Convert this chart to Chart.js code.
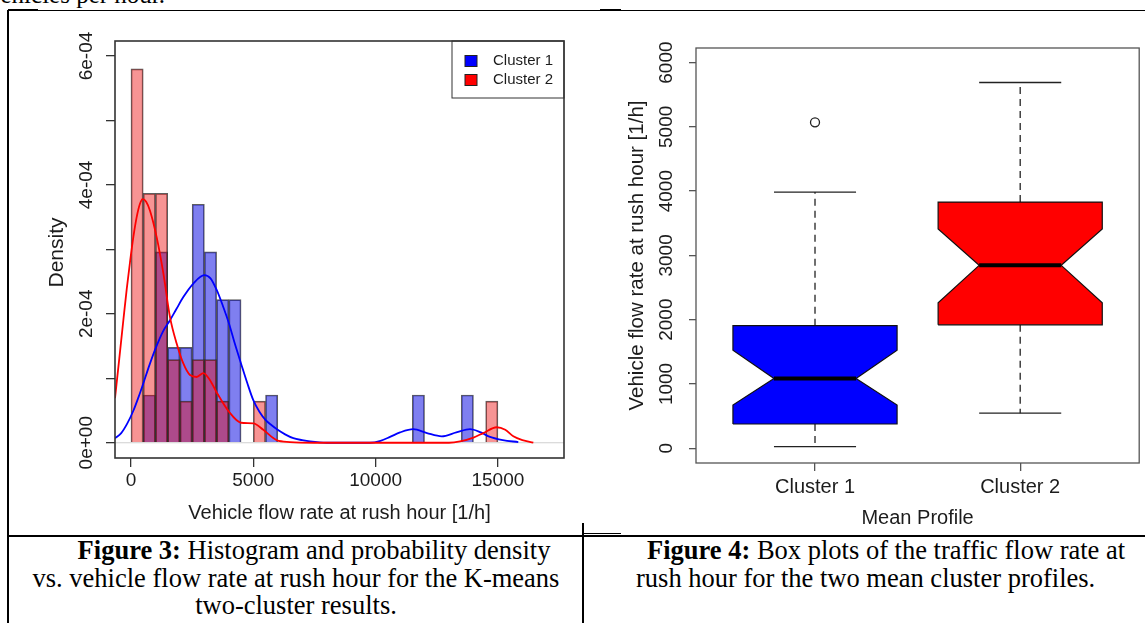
<!DOCTYPE html>
<html>
<head>
<meta charset="utf-8">
<script src="https://cdn.jsdelivr.net/npm/chart.js@4.4.1/dist/chart.umd.min.js"></script>
<style>
    html, body { margin: 0; padding: 0; background: #fff; }
    body {
        width: 1145px; height: 623px; position: relative; overflow: hidden;
        font-family: "Liberation Serif", "Times New Roman", serif; color: #000;
    }
    canvas { position: absolute; }
    .rule { position: absolute; background: #000; }
    .cap { position: absolute; font-size: 26.5px; line-height: 27.5px; white-space: nowrap; }
</style>
</head>
<body>

<div class="cap" style="left:-12px; top:-18px; font-size:25px; line-height:25px;">vehicles per hour.</div>

<div class="rule" style="left:8px; top:10px; width:1137px; height:1px;"></div>
<div class="rule" style="left:8px; top:9px; width:30px; height:2px;"></div>
<div class="rule" style="left:600px; top:9px; width:21px; height:2px;"></div>
<div class="rule" style="left:7px; top:10px; width:2px; height:613px;"></div>
<div class="rule" style="left:8px; top:535px; width:1137px; height:2px;"></div>
<div class="rule" style="left:583px; top:533px; width:38px; height:1px;"></div>
<div class="rule" style="left:582px; top:523px; width:2px; height:100px;"></div>

<canvas id="graficoHist" width="573" height="522" style="left:10px; top:12px;"></canvas>
<canvas id="graficoBox" width="545" height="522" style="left:600px; top:12px;"></canvas>

<div class="cap" style="left:9px; width:574px; top:537px; text-align:center;">
    <div style="padding-left:36px;"><b>Figure 3:</b> Histogram and probability density</div>
    <div>vs. vehicle flow rate at rush hour for the K-means</div>
    <div>two-cluster results.</div>
</div>

<div class="cap" style="left:636px; top:537px;">
    <div style="padding-left:11px;"><b>Figure 4:</b> Box plots of the traffic flow rate at</div>
    <div>rush hour for the two mean cluster profiles.</div>
</div>

<script>
// histogram (Figure 3)

const binStarts = [
    0, 500, 1000, 1500, 2000, 2500, 3000, 3500, 4000, 4500,
    5000, 5500, 6000, 6500, 7000, 7500, 8000, 8500, 9000, 9500,
    10000, 10500, 11000, 11500, 12000, 12500, 13000, 13500, 14000, 14500
];

const cluster1Density = [
    0, 0.74e-4, 2.96e-4, 1.48e-4, 1.48e-4, 3.70e-4, 2.96e-4, 2.22e-4, 2.22e-4, 0,
    0, 0.74e-4, 0, 0, 0, 0, 0, 0, 0, 0,
    0, 0, 0, 0.74e-4, 0, 0, 0, 0.74e-4, 0, 0
];

const cluster2Density = [
    5.80e-4, 3.87e-4, 3.87e-4, 1.29e-4, 0.645e-4, 1.29e-4, 1.29e-4, 0.645e-4, 0, 0,
    0.645e-4, 0, 0, 0, 0, 0, 0, 0, 0, 0,
    0, 0, 0, 0, 0, 0, 0, 0, 0, 0.645e-4
];

const cluster1CurveX = [
    -654, -400, -150, 100, 300, 503, 750, 981, 1300, 1594,
    1850, 2139, 2548, 2998, 3250, 3503, 3750, 4006, 4250, 4497,
    4750, 5000, 5250, 5507, 5750, 5997, 6300, 6636, 7000, 7318,
    8000, 9770, 10200, 10589, 11000, 11542, 12100, 12703, 13300, 13860,
    14300, 14677, 15200, 15834
];

const cluster1CurveY = [
    0.07e-4, 0.15e-4, 0.30e-4, 0.50e-4, 0.70e-4, 0.92e-4, 1.20e-4, 1.44e-4, 1.72e-4, 1.90e-4,
    2.07e-4, 2.26e-4, 2.47e-4, 2.60e-4, 2.55e-4, 2.37e-4, 2.13e-4, 1.85e-4, 1.53e-4, 1.23e-4,
    0.93e-4, 0.66e-4, 0.48e-4, 0.35e-4, 0.27e-4, 0.20e-4, 0.13e-4, 0.07e-4, 0.04e-4, 0.02e-4,
    0, 0, 0.03e-4, 0.09e-4, 0.16e-4, 0.21e-4, 0.15e-4, 0.10e-4, 0.16e-4, 0.21e-4,
    0.16e-4, 0.09e-4, 0.04e-4, 0.01e-4
];

const cluster2CurveX = [
    -654, -480, -313, -170, -41, 100, 232, 360, 477, 620,
    777, 1049, 1322, 1594, 1867, 2139, 2412, 2685, 2957, 3230,
    3503, 4006, 4497, 5000, 5409, 5955, 6500, 7500, 10000, 13000,
    13450, 14000, 14403, 14951, 15300, 15630, 16000, 16448
];

const cluster2CurveY = [
    0.69e-4, 1.30e-4, 1.90e-4, 2.40e-4, 2.80e-4, 3.20e-4, 3.50e-4, 3.70e-4, 3.78e-4, 3.74e-4,
    3.60e-4, 3.19e-4, 2.63e-4, 1.95e-4, 1.54e-4, 1.23e-4, 1.05e-4, 1.02e-4, 1.08e-4, 0.97e-4,
    0.78e-4, 0.48e-4, 0.31e-4, 0.30e-4, 0.20e-4, 0.04e-4, 0.01e-4, 0, 0, 0,
    0.02e-4, 0.08e-4, 0.15e-4, 0.24e-4, 0.20e-4, 0.10e-4, 0.04e-4, 0
];

const histXTickValues = [0, 5000, 10000, 15000];
const histXTicks = ["0", "5000", "10000", "15000"];
const histYTickValues = [0, 1e-4, 2e-4, 3e-4, 4e-4, 5e-4, 6e-4];
const histYTicks = ["0e+00", "", "2e-04", "", "4e-04", "", "6e-04"];
const legendLabels = ["Cluster 1", "Cluster 2"];

// box plots (Figure 4)

const groups = ["Cluster 1", "Cluster 2"];
const whiskerLow = [25, 545];
const quartil1 = [377, 1920];
const notchLow = [672, 2263];
const mediana = [1085, 2845];
const notchHigh = [1524, 3410];
const quartil3 = [1907, 3830];
const whiskerHigh = [3985, 5690];
const outliers = [[5070], []];
const boxXTickValues = [1, 2];
const boxYTickValues = [0, 1000, 2000, 3000, 4000, 5000, 6000];
const boxYTicks = ["0", "1000", "2000", "3000", "4000", "5000", "6000"];

const fonteSans = '"Liberation Sans", Arial, Helvetica, sans-serif';
const corTexto = "#1c1c1c";

function rPlot(cfg) {

    return {

        id: "rPlot",

        afterDraw(chart) {

            const { ctx, chartArea: a, scales } = chart;

            ctx.save();

            ctx.strokeStyle = cfg.frameColor;
            ctx.lineWidth = cfg.frameWidth;
            ctx.strokeRect(a.left, a.top, a.right - a.left, a.bottom - a.top);

            ctx.fillStyle = corTexto;
            ctx.textAlign = "center";
            ctx.textBaseline = "middle";

            ctx.font = cfg.xFont;
            scales.x.ticks.forEach((t, i) => {
                if (!cfg.xLabels[i]) return;
                ctx.fillText(cfg.xLabels[i], scales.x.getPixelForValue(t.value), cfg.xLabelY);
            });

            ctx.font = cfg.xTitleFont;
            ctx.fillText(cfg.xTitle, (a.left + a.right) / 2, cfg.xTitleY);

            ctx.font = cfg.yFont;
            scales.y.ticks.forEach((t, i) => {
                if (!cfg.yLabels[i]) return;
                ctx.save();
                ctx.translate(cfg.yLabelX, scales.y.getPixelForValue(t.value));
                ctx.rotate(-Math.PI / 2);
                ctx.fillText(cfg.yLabels[i], 0, 0);
                ctx.restore();
            });

            ctx.font = cfg.yTitleFont;
            ctx.save();
            ctx.translate(cfg.yTitleX, (a.top + a.bottom) / 2 + cfg.yTitleShift);
            ctx.rotate(-Math.PI / 2);
            ctx.fillText(cfg.yTitle, 0, 0);
            ctx.restore();

            if (cfg.legend) {
                const lg = cfg.legend;
                const left = a.right - lg.width;
                ctx.strokeStyle = cfg.frameColor;
                ctx.lineWidth = 1;
                ctx.strokeRect(left, a.top, lg.width, lg.height);
                ctx.font = lg.font;
                ctx.textAlign = "left";
                lg.labels.forEach((label, i) => {
                    const cy = a.top + 20 + i * 19;
                    ctx.fillStyle = lg.colors[i];
                    ctx.fillRect(left + 13, cy - 5.5, 12, 11);
                    ctx.strokeStyle = "#222";
                    ctx.strokeRect(left + 13, cy - 5.5, 12, 11);
                    ctx.fillStyle = corTexto;
                    ctx.fillText(label, left + 41, cy);
                });
            }

            ctx.restore();
        }
    };
}

function tickGrid(len, color) {
    return {
        drawOnChartArea: false,
        drawTicks: true,
        tickLength: len,
        color: color,
        lineWidth: 1.3,
        offset: false
    };
}

function fixarTicks(valores) {
    return scale => {
        scale.ticks = valores.map(v => ({ value: v }));
    };
}

function renderizarHistograma() {

    const canvas = document.getElementById("graficoHist");

    const pontos = (xs, ys) => xs.map((x, i) => ({ x: x, y: ys[i] }));
    const barras = dens => binStarts.map((b, i) => ({ x: b + 250, y: dens[i] }));

    new Chart(canvas, {

        type: "bar",

        data: {
            datasets: [
                {
                    type: "line",
                    label: "Cluster 2 density",
                    data: pontos(cluster2CurveX, cluster2CurveY),
                    borderColor: "#ff0000",
                    borderWidth: 1.8,
                    pointRadius: 0,
                    fill: false,
                    cubicInterpolationMode: "monotone",
                    order: 0
                },
                {
                    type: "line",
                    label: "Cluster 1 density",
                    data: pontos(cluster1CurveX, cluster1CurveY),
                    borderColor: "#0000ff",
                    borderWidth: 1.8,
                    pointRadius: 0,
                    fill: false,
                    cubicInterpolationMode: "monotone",
                    order: 0
                },
                {
                    label: "Cluster 2",
                    data: barras(cluster2Density),
                    backgroundColor: "rgba(235,0,0,0.42)",
                    borderColor: "rgba(40,40,40,0.75)",
                    borderWidth: 1,
                    grouped: false,
                    barPercentage: 1,
                    categoryPercentage: 1,
                    order: 1
                },
                {
                    label: "Cluster 1",
                    data: barras(cluster1Density),
                    backgroundColor: "rgba(0,0,225,0.5)",
                    borderColor: "rgba(40,40,40,0.75)",
                    borderWidth: 1,
                    grouped: false,
                    barPercentage: 1,
                    categoryPercentage: 1,
                    order: 2
                },
                {
                    type: "line",
                    label: "zero",
                    data: [{ x: -654, y: 0 }, { x: 17702, y: 0 }],
                    borderColor: "#cfcfcf",
                    borderWidth: 1.2,
                    pointRadius: 0,
                    order: 3
                }
            ]
        },

        options: {
            responsive: false,
            animation: false,
            devicePixelRatio: 1,
            layout: { padding: { left: 45, top: 29, right: 19, bottom: 16 } },
            plugins: { legend: { display: false }, tooltip: { enabled: false } },
            scales: {
                x: {
                    type: "linear",
                    min: -654,
                    max: 17702,
                    offset: false,
                    grid: tickGrid(9, "#333"),
                    border: { display: false },
                    ticks: { display: false },
                    afterBuildTicks: fixarTicks(histXTickValues),
                    afterFit: s => { s.height = 60; }
                },
                y: {
                    min: -0.237e-4,
                    max: 6.233e-4,
                    grid: tickGrid(9, "#333"),
                    border: { display: false },
                    ticks: { display: false },
                    afterBuildTicks: fixarTicks(histYTickValues),
                    afterFit: s => { s.width = 60; }
                }
            }
        },

        plugins: [
            rPlot({
                frameColor: "#333",
                frameWidth: 1.6,
                xLabels: histXTicks,
                yLabels: histYTicks,
                xFont: "19px " + fonteSans,
                xTitleFont: "20px " + fonteSans,
                yFont: "19px " + fonteSans,
                yTitleFont: "21px " + fonteSans,
                xLabelY: 469,
                xTitle: "Vehicle flow rate at rush hour [1/h]",
                xTitleY: 501,
                yLabelX: 77,
                yTitle: "Density",
                yTitleX: 47,
                yTitleShift: 3,
                legend: {
                    labels: legendLabels,
                    colors: ["#0000ff", "#ff0000"],
                    width: 112,
                    height: 57,
                    font: "15px " + fonteSans
                }
            })
        ]
    });
}

function renderizarBoxplot() {

    const canvas = document.getElementById("graficoBox");

    const meia = 0.4;
    const notch = 0.2;
    const cap = 0.2;
    const cores = ["#0000ff", "#ff0000"];

    const linha = (pts, extra) => Object.assign({
        type: "line",
        data: pts.map(p => ({ x: p[0], y: p[1] })),
        borderColor: "#222",
        borderWidth: 1.3,
        pointRadius: 0,
        fill: false,
        tension: 0
    }, extra);

    const datasets = [];

    groups.forEach((g, i) => {

        const c = i + 1;

        datasets.push(linha([[c, quartil3[i]], [c, whiskerHigh[i]]], { borderDash: [7, 5], order: 5 }));
        datasets.push(linha([[c, quartil1[i]], [c, whiskerLow[i]]], { borderDash: [7, 5], order: 5 }));
        datasets.push(linha([[c - cap, whiskerHigh[i]], [c + cap, whiskerHigh[i]]], { order: 5 }));
        datasets.push(linha([[c - cap, whiskerLow[i]], [c + cap, whiskerLow[i]]], { order: 5 }));

        datasets.push(linha([
            [c - meia, quartil1[i]],
            [c - meia, notchLow[i]],
            [c - notch, mediana[i]],
            [c - meia, notchHigh[i]],
            [c - meia, quartil3[i]],
            [c + meia, quartil3[i]],
            [c + meia, notchHigh[i]],
            [c + notch, mediana[i]],
            [c + meia, notchLow[i]],
            [c + meia, quartil1[i]],
            [c - meia, quartil1[i]]
        ], {
            label: g,
            fill: "shape",
            backgroundColor: cores[i],
            borderColor: "#111",
            borderWidth: 1.2,
            order: 2
        }));

        datasets.push(linha([[c - notch, mediana[i]], [c + notch, mediana[i]]], {
            borderColor: "#000",
            borderWidth: 4,
            order: 1
        }));

        if (outliers[i].length) {
            datasets.push({
                type: "scatter",
                data: outliers[i].map(v => ({ x: c, y: v })),
                pointRadius: 4.5,
                pointStyle: "circle",
                backgroundColor: "#fff",
                borderColor: "#222",
                borderWidth: 1.3,
                order: 0
            });
        }
    });

    new Chart(canvas, {

        type: "scatter",

        data: { datasets },

        options: {
            responsive: false,
            animation: false,
            devicePixelRatio: 1,
            layout: { padding: { left: 36, top: 36, right: 2, bottom: 16 } },
            plugins: { legend: { display: false }, tooltip: { enabled: false } },
            scales: {
                x: {
                    type: "linear",
                    min: 0.42,
                    max: 2.58,
                    grid: tickGrid(8, "#555"),
                    border: { display: false },
                    ticks: { display: false },
                    afterBuildTicks: fixarTicks(boxXTickValues),
                    afterFit: s => { s.height = 55; }
                },
                y: {
                    min: -230,
                    max: 6227,
                    grid: tickGrid(7, "#555"),
                    border: { display: false },
                    ticks: { display: false },
                    afterBuildTicks: fixarTicks(boxYTickValues),
                    afterFit: s => { s.width = 60; }
                }
            }
        },

        plugins: [
            rPlot({
                frameColor: "#555",
                frameWidth: 1.3,
                xLabels: groups,
                yLabels: boxYTicks,
                xFont: "20px " + fonteSans,
                xTitleFont: "20px " + fonteSans,
                yFont: "19px " + fonteSans,
                yTitleFont: "20.5px " + fonteSans,
                xLabelY: 475,
                xTitle: "Mean Profile",
                xTitleY: 506,
                yLabelX: 67,
                yTitle: "Vehicle flow rate at rush hour [1/h]",
                yTitleX: 37,
                yTitleShift: 0
            })
        ]
    });
}

renderizarHistograma();
renderizarBoxplot();
</script>
</body>
</html>
